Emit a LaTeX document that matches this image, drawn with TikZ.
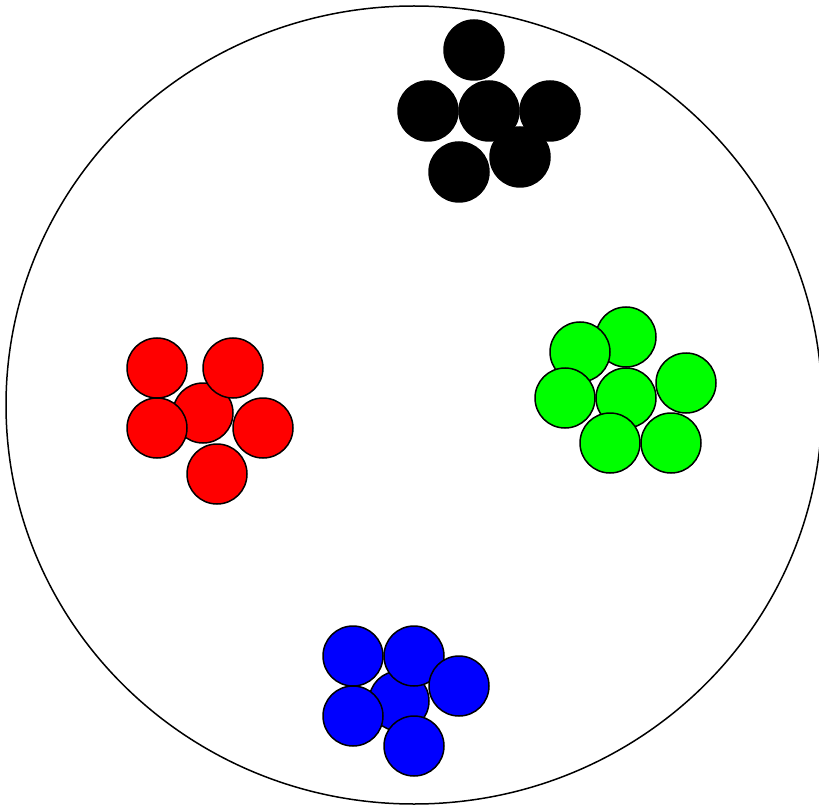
\documentclass[tikz,border=0pt]{standalone}
\usepackage{tikz}
\usepackage{xcolor}
\usetikzlibrary{shapes.geometric}
\definecolor{BallRed}{HTML}{FF0000}
\definecolor{BallGreen}{HTML}{00FF00}
\definecolor{BallBlue}{HTML}{0000FF}
\definecolor{BallBlack}{HTML}{000000}
\tikzset{
    % Outer dish
    dish/.style={
        ellipse,
        draw=black,
        line width=1.5pt,
        minimum width=816pt,
        minimum height=798pt,
        inner sep=0pt
    },
    % Particles
    ball/.style={
        circle,
        draw=black,
        line width=1.5pt,
        minimum size=60pt,
        inner sep=0pt
    },
    ball red/.style={ball, fill=BallRed},
    ball green/.style={ball, fill=BallGreen},
    ball blue/.style={ball, fill=BallBlue},
    ball black/.style={ball, fill=BallBlack}
}
\begin{document}
\begin{tikzpicture}[x=1pt, y=-1pt]
        \useasboundingbox (0,0) rectangle (819,810);

        % Dish
        \node[dish] (dish) at (414,405) {};

        % Black cluster
        \node[ball black] (k1) at (474,50) {};
        \node[ball black] (k2) at (428,111) {};
        \node[ball black] (k3) at (550,111) {};
        \node[ball black] (k4) at (489,111) {};
        \node[ball black] (k5) at (459,172) {};
        \node[ball black] (k6) at (520,157) {};

        % Red cluster
        \node[ball red] (r1) at (203,413) {};
        \node[ball red] (r2) at (157,368) {};
        \node[ball red] (r3) at (233,368) {};
        \node[ball red] (r4) at (157,428) {};
        \node[ball red] (r5) at (263,428) {};
        \node[ball red] (r6) at (217,474) {};

        % Green cluster
        \node[ball green] (g1) at (626,337) {};
        \node[ball green] (g2) at (580,352) {};
        \node[ball green] (g3) at (626,398) {};
        \node[ball green] (g4) at (565,398) {};
        \node[ball green] (g5) at (686,383) {};
        \node[ball green] (g6) at (610,443) {};
        \node[ball green] (g7) at (671,443) {};

        % Blue cluster
        \node[ball blue] (b1) at (399,701) {};
        \node[ball blue] (b2) at (353,656) {};
        \node[ball blue] (b3) at (414,656) {};
        \node[ball blue] (b4) at (459,686) {};
        \node[ball blue] (b5) at (353,716) {};
        \node[ball blue] (b6) at (414,746) {};
    \end{tikzpicture}
\end{document}
